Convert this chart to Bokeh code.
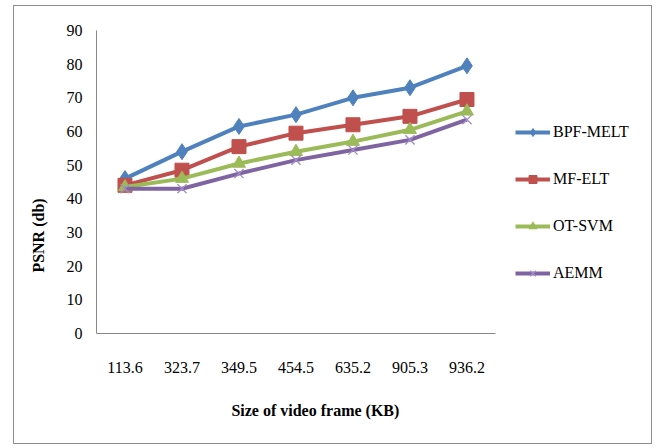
from bokeh.embed import file_html
from bokeh.models import FixedTicker, Label, Legend, LegendItem
from bokeh.plotting import figure
from bokeh.resources import INLINE

# Frame sizes (KB) along the x axis
frame_sizes = ["113.6", "323.7", "349.5", "454.5", "635.2", "905.3", "936.2"]

# PSNR (db) per method
bpf_melt = [46, 54, 61.5, 65, 70, 73, 79.5]
mf_elt = [44, 48.5, 55.5, 59.5, 62, 64.5, 69.5]
ot_svm = [43.5, 46, 50.5, 54, 57, 60.5, 66]
aemm = [43, 43, 47.5, 51.5, 54.5, 57.5, 63.5]

series_names = ["BPF-MELT", "MF-ELT", "OT-SVM", "AEMM"]
series_values = [bpf_melt, mf_elt, ot_svm, aemm]
colors = ["#4F81BD", "#C0504D", "#9BBB59", "#8064A2"]
markers = ["diamond", "square", "triangle", "x"]
marker_sizes = [16, 14, 13, 13]

FONT = "Liberation Serif"
AXIS_GRAY = "#868686"

# each frame size gets one slot; slot centres sit at i + 0.5
n = len(frame_sizes)
slot_x = [i + 0.5 for i in range(n)]

# the plotting frame also holds the legend (right) and the x title (below)
p = figure(
    width=639, height=439,
    x_range=(0, 9.72), y_range=(-31.8, 90),
    output_backend="svg", toolbar_location=None,
    min_border_left=82, min_border_right=3,
    min_border_top=24, min_border_bottom=5,
)
# thin grey frame round the whole chart area
p.styles = {"border": "1px solid #8C8C8C", "margin-left": "13px", "margin-top": "5px"}
p.outline_line_color = None
p.xgrid.grid_line_color = None
p.ygrid.grid_line_color = None
p.background_fill_color = "white"
p.border_fill_color = "white"

for ax in (p.xaxis, p.yaxis):
    ax.axis_line_color = AXIS_GRAY
    ax.axis_line_width = 1
    ax.major_tick_line_color = None
    ax.minor_tick_line_color = None
    ax.major_tick_out = 0
    ax.major_tick_in = 0
    ax.major_label_text_font = FONT
    ax.major_label_text_font_size = "16px"
    ax.major_label_text_color = "black"

p.yaxis.ticker = FixedTicker(ticks=list(range(0, 91, 10)))
p.yaxis.bounds = (0, 90)
p.yaxis.major_label_standoff = 14
p.yaxis.axis_label = "PSNR (db)"
p.yaxis.axis_label_text_font = FONT
p.yaxis.axis_label_text_font_size = "16px"
p.yaxis.axis_label_text_font_style = "bold"
p.yaxis.axis_label_text_color = "black"
p.yaxis.axis_label_standoff = 17

p.xaxis.fixed_location = 0
p.xaxis.bounds = (0, n)
p.xaxis.ticker = FixedTicker(ticks=slot_x)
p.xaxis.major_label_overrides = {x: lab for x, lab in zip(slot_x, frame_sizes)}
p.xaxis.major_label_standoff = 29

items = []
for name, vals, col, mk, ms in zip(series_names, series_values, colors, markers, marker_sizes):
    ln = p.line(slot_x, vals, line_color=col, line_width=4)
    if mk == "x":
        sc = p.scatter(slot_x, vals, marker=mk, size=ms, line_color="#A08CC8",
                       line_width=1.3, fill_color=None)
    else:
        sc = p.scatter(slot_x, vals, marker=mk, size=ms, line_color=col,
                       fill_color=col)
    items.append(LegendItem(label=name, renderers=[ln, sc]))

legend = Legend(
    items=items, location=(419, 157),
    glyph_width=35, glyph_height=20, label_height=20, spacing=27,
    label_standoff=3, padding=0, margin=0,
    border_line_color=None, background_fill_alpha=0,
    label_text_font=FONT, label_text_font_size="16px", label_text_color="black",
)
p.add_layout(legend)

p.add_layout(Label(x=3.84, y=-22.9, text="Size of video frame (KB)",
                   text_font=FONT, text_font_size="16px", text_font_style="bold",
                   text_align="center", text_baseline="middle", text_color="black"))

open("out.html", "w").write(file_html(p, INLINE))
